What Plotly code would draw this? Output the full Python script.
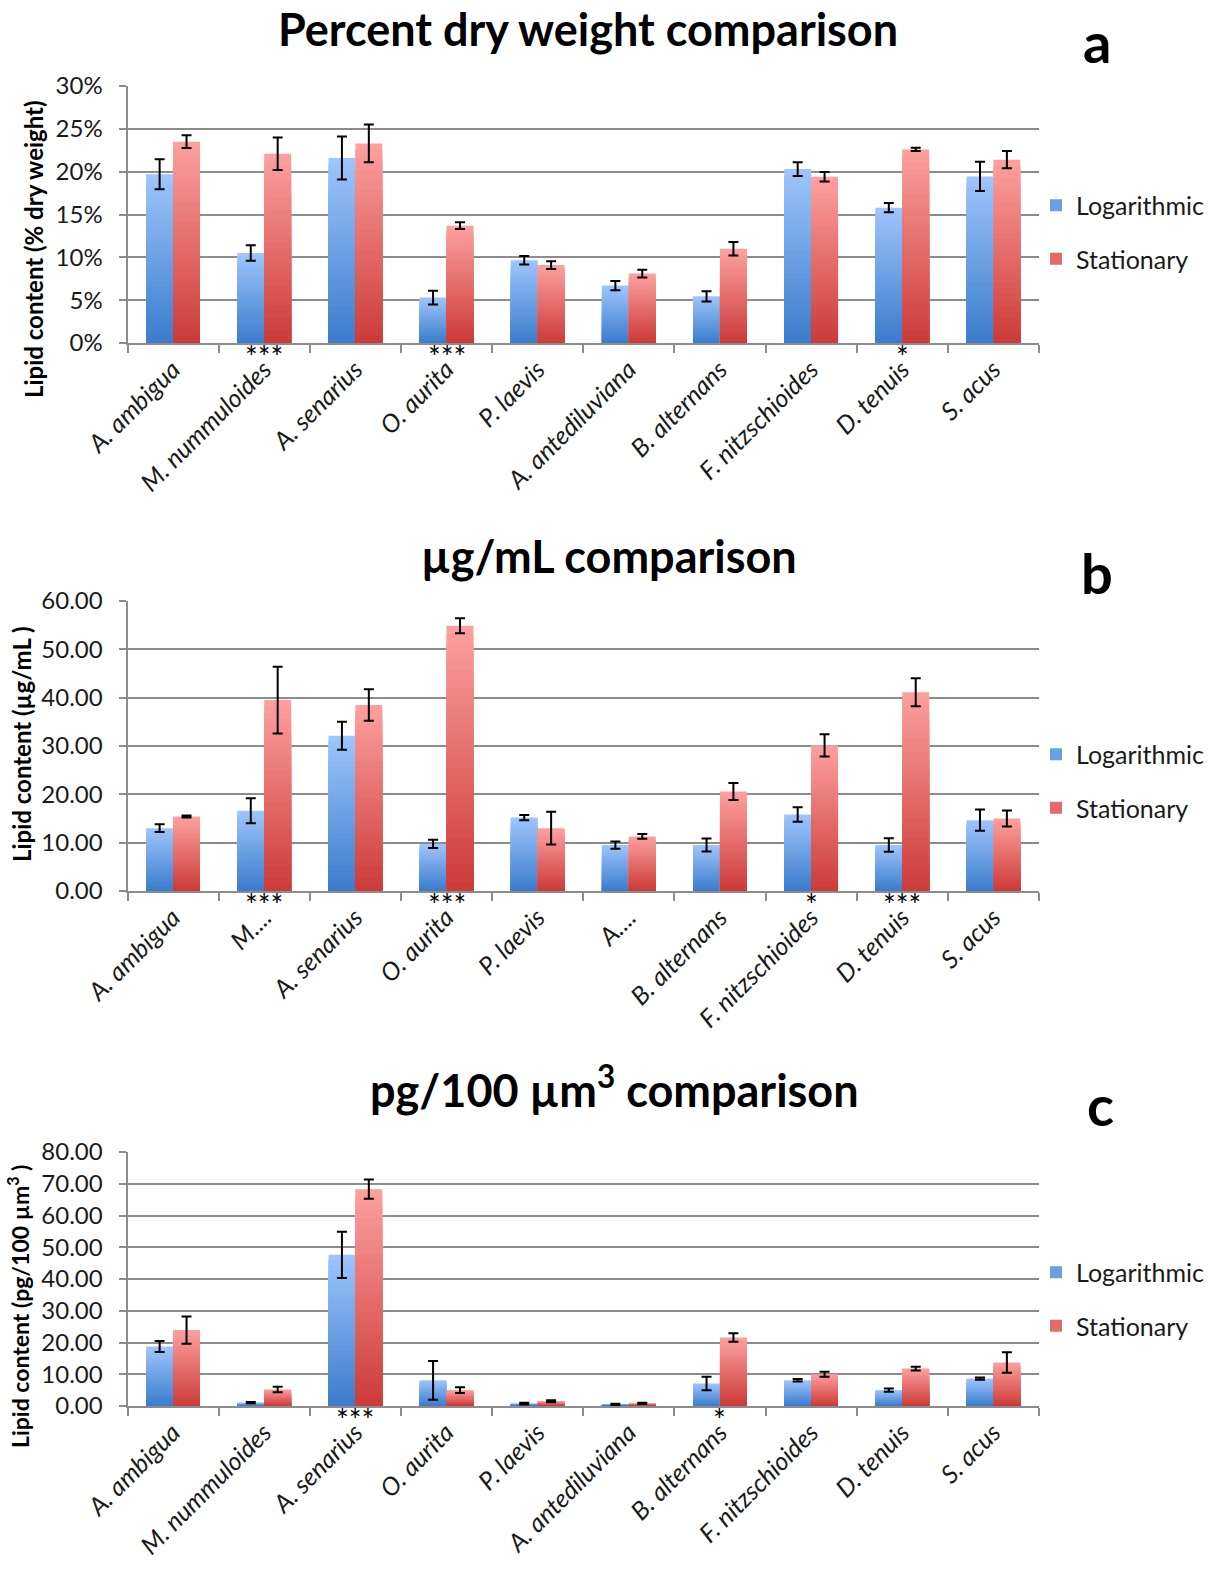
import plotly.graph_objects as go

# ---------------- data ----------------
categories = ["A. ambigua", "M. nummuloides", "A. senarius", "O. aurita", "P. laevis",
              "A. antediluviana", "B. alternans", "F. nitzschioides", "D. tenuis", "S. acus"]
labels_a = categories
labels_b = ["A. ambigua", "M....", "A. senarius", "O. aurita", "P. laevis",
            "A....", "B. alternans", "F. nitzschioides", "D. tenuis", "S. acus"]
labels_c = categories
series_names = ["Logarithmic", "Stationary"]

a_log = [19.7, 10.5, 21.6, 5.3, 9.65, 6.7, 5.45, 20.3, 15.8, 19.45]
a_log_err = [1.75, 0.9, 2.5, 0.8, 0.5, 0.55, 0.6, 0.8, 0.55, 1.7]
a_stat = [23.5, 22.1, 23.3, 13.7, 9.1, 8.1, 11.0, 19.4, 22.6, 21.4]
a_stat_err = [0.75, 1.9, 2.2, 0.4, 0.45, 0.45, 0.8, 0.55, 0.2, 1.0]
a_sig = ["", "***", "", "***", "", "", "", "", "*", ""]

b_log = [13.0, 16.6, 32.1, 9.75, 15.2, 9.5, 9.5, 15.85, 9.5, 14.65]
b_log_err = [0.8, 2.6, 2.9, 0.85, 0.55, 0.75, 1.35, 1.5, 1.4, 2.2]
b_stat = [15.4, 39.5, 38.5, 54.9, 13.0, 11.3, 20.6, 30.15, 41.1, 15.0]
b_stat_err = [0.2, 6.9, 3.25, 1.55, 3.4, 0.5, 1.75, 2.3, 2.9, 1.65]
b_sig = ["", "***", "", "***", "", "", "", "*", "***", ""]

c_log = [18.75, 1.05, 47.6, 8.1, 0.75, 0.5, 7.1, 8.1, 5.0, 8.65]
c_log_err = [1.75, 0.2, 7.25, 6.1, 0.3, 0.2, 2.1, 0.4, 0.55, 0.35]
c_stat = [23.9, 5.2, 68.3, 5.0, 1.5, 0.8, 21.6, 10.0, 11.8, 13.7]
c_stat_err = [4.3, 0.85, 3.05, 0.9, 0.3, 0.2, 1.35, 0.8, 0.6, 3.2]
c_sig = ["", "", "***", "", "", "", "*", "", "", ""]

titles = ["Percent dry weight comparison", "µg/mL comparison", "pg/100 µm<sup>3</sup> comparison"]
ytitles = ["Lipid content (% dry weight)", "Lipid content (µg/mL )", "Lipid content (pg/100 µm<sup>3</sup> )"]
letters = ["a", "b", "c"]

# ---------------- styling / layout ----------------
W, H = 1213, 1573
FONT = "Lato"
def px(x): return x / W
def py(y): return 1 - y / H

GRID = "#8c8c8c"
TOP = {"Logarithmic": (157, 196, 251), "Stationary": (252, 159, 157)}
BOT = {"Logarithmic": (60, 125, 205), "Stationary": (204, 60, 58)}
NSLICE = 30
BAR_W = 0.295
OFFS = {"Logarithmic": -BAR_W, "Stationary": 0.0}

panels = [
    dict(top=86, bot=343, ymax=30, dtick=5, fmt="d", suffix="%", labels=labels_a,
         log=a_log, log_err=a_log_err, stat=a_stat, stat_err=a_stat_err, sig=a_sig,
         title_y=29, title_x=588, ylab_x=33, ylab_y=249, ylab_size=24,
         letter_xy=(1097, 42), leg_y=232),
    dict(top=601, bot=891, ymax=60, dtick=10, fmt=".2f", suffix="", labels=labels_b,
         log=b_log, log_err=b_log_err, stat=b_stat, stat_err=b_stat_err, sig=b_sig,
         title_y=556, title_x=609, ylab_x=21, ylab_y=744, ylab_size=24,
         letter_xy=(1097, 572), leg_y=781),
    dict(top=1152, bot=1406, ymax=80, dtick=10, fmt=".2f", suffix="", labels=labels_c,
         log=c_log, log_err=c_log_err, stat=c_stat, stat_err=c_stat_err, sig=c_sig,
         title_y=1087, title_x=614, ylab_x=18, ylab_y=1307, ylab_size=23,
         letter_xy=(1100, 1104), leg_y=1299),
]

fig = go.Figure()
layout = dict(width=W, height=H, margin=dict(l=0, r=0, t=0, b=0, autoexpand=False),
              paper_bgcolor="white", plot_bgcolor="white", barmode="overlay",
              font=dict(family=FONT, color="#1a1a1a"), annotations=[])

def mix(c1, c2, t):
    return "rgb(%d,%d,%d)" % tuple(round(a + (b - a) * t) for a, b in zip(c1, c2))

for i, p in enumerate(panels):
    n = "" if i == 0 else str(i + 1)
    xa, ya = "x" + n, "y" + n
    leg = "legend" + n
    for name, vals, errs in [("Logarithmic", p["log"], p["log_err"]),
                             ("Stationary", p["stat"], p["stat_err"])]:
        # gradient built from stacked (overlaid) slices of each bar, top light -> bottom dark
        for k in range(NSLICE):
            f = 1 - k / NSLICE
            fig.add_trace(go.Bar(
                x=categories, y=[v * f for v in vals], xaxis=xa, yaxis=ya,
                offset=OFFS[name], width=BAR_W,
                marker=dict(color=mix(TOP[name], BOT[name], k / (NSLICE - 1)), line=dict(width=0)),
                name=name, legend=leg, legendgroup=name + n,
                showlegend=(k == NSLICE // 2), hoverinfo="skip"))
        # error bars on a transparent bar on top
        fig.add_trace(go.Bar(
            x=categories, y=vals, xaxis=xa, yaxis=ya, offset=OFFS[name], width=BAR_W,
            marker=dict(color="rgba(0,0,0,0)", line=dict(width=0)),
            error_y=dict(type="data", array=errs, visible=True, color="black", thickness=2, width=5),
            showlegend=False, name=name))

    layout["xaxis" + n] = dict(domain=[px(127.5), px(1039)], anchor=ya,
                               type="category", categoryorder="array", categoryarray=categories,
                               tickmode="array", tickvals=categories, ticktext=p["labels"],
                               tickangle=-45, tickson="boundaries", ticks="outside", ticklen=8,
                               tickcolor=GRID, tickwidth=2, showline=True, linecolor=GRID, linewidth=2,
                               showgrid=False, automargin=False,
                               tickfont=dict(size=25, style="italic", family=FONT, color="#1a1a1a"),
                               range=[-0.5, 9.5], fixedrange=True)
    layout["yaxis" + n] = dict(domain=[py(p["bot"]), py(p["top"])], anchor=xa,
                               range=[0, p["ymax"]], dtick=p["dtick"], tick0=0,
                               tickformat=p["fmt"], ticksuffix=p["suffix"],
                               showgrid=True, gridcolor=GRID, gridwidth=2, zeroline=False,
                               showline=True, linecolor=GRID, linewidth=2, ticks="outside",
                               ticklen=7, tickcolor=GRID, tickwidth=2, ticklabelstandoff=11,
                               automargin=False,
                               tickfont=dict(size=24, family=FONT, color="#1a1a1a"), fixedrange=True)
    layout[leg] = dict(x=px(1036), xanchor="left", y=py(p["leg_y"]), yanchor="middle",
                       font=dict(size=25, family=FONT, color="#1a1a1a"), tracegroupgap=18,
                       bgcolor="rgba(0,0,0,0)", traceorder="grouped")
    layout["annotations"].append(dict(text="<b>%s</b>" % titles[i], x=px(p["title_x"]), y=py(p["title_y"]),
                                      xref="paper", yref="paper", xanchor="center", yanchor="middle",
                                      showarrow=False, font=dict(size=45, family=FONT, color="black")))
    layout["annotations"].append(dict(text="<b>%s</b>" % ytitles[i], x=px(p["ylab_x"]), y=py(p["ylab_y"]),
                                      xref="paper", yref="paper", xanchor="center", yanchor="middle",
                                      textangle=-90, showarrow=False,
                                      font=dict(size=p["ylab_size"], family=FONT, color="black")))
    layout["annotations"].append(dict(text="<b>%s</b>" % letters[i], x=px(p["letter_xy"][0]),
                                      y=py(p["letter_xy"][1]), xref="paper", yref="paper",
                                      xanchor="center", yanchor="middle", showarrow=False,
                                      font=dict(size=56, family=FONT, color="black")))
    for cat, s in zip(categories, p["sig"]):
        if s:
            layout["annotations"].append(dict(text=s, x=cat, xref=xa, y=py(p["bot"] + 13), yref="paper",
                                              xanchor="center", yanchor="middle", showarrow=False,
                                              font=dict(size=30, family=FONT, color="black")))

fig.update_layout(**layout)
# remove the page's default 8px body margin so the figure fills the window exactly
fig.write_html("out.html", config=dict(displayModeBar=False),
               post_script="document.body.style.margin='0';")
